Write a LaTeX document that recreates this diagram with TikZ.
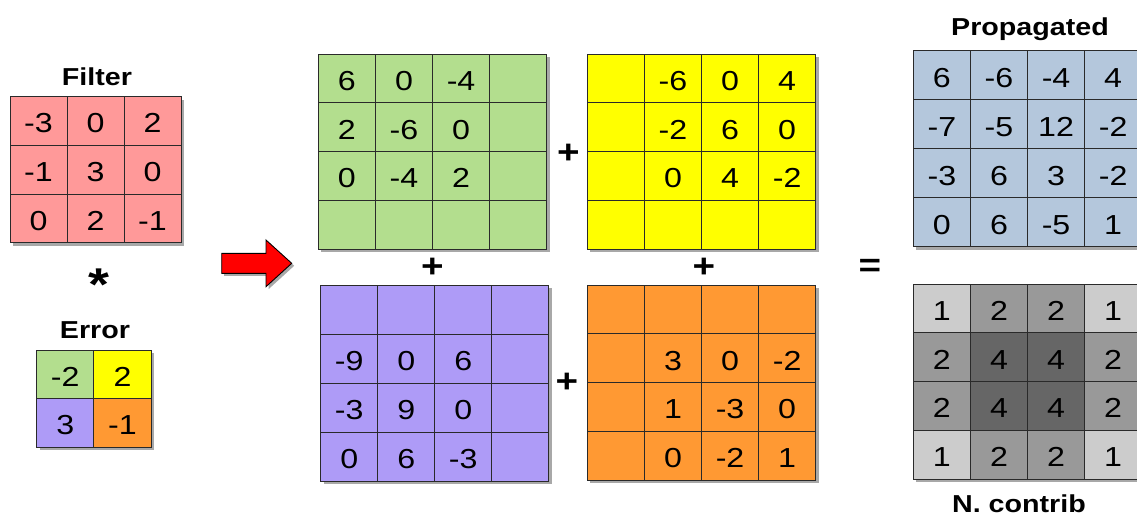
\documentclass[tikz,border=0pt]{standalone}
\usepackage{fontspec}
\setmainfont[FakeStretch=1.17]{Liberation Sans}
\definecolor{gridline}{HTML}{2A2A2A}
\definecolor{cfilter}{HTML}{FF9999}
\definecolor{cgreen}{HTML}{B3DE8E}
\definecolor{cyellow}{HTML}{FFFF00}
\definecolor{cpurple}{HTML}{AE9BF7}
\definecolor{corange}{HTML}{FF9933}
\definecolor{cblue}{HTML}{B4C7DC}
\definecolor{nc1}{HTML}{CCCCCC}
\definecolor{nc2}{HTML}{999999}
\definecolor{nc4}{HTML}{666666}
\colorlet{err11}{cgreen}
\colorlet{err12}{cyellow}
\colorlet{err21}{cpurple}
\colorlet{err22}{corange}
\definecolor{shadowc}{HTML}{A8A8A8}
\tikzset{
  cell/.style={draw=gridline, line width=0.9pt, inner sep=0pt, text height=23.7pt, text depth=0pt,
    font=\fontsize{27.5}{27.5}\selectfont},
  title/.style={font=\fontsize{24.5}{24.5}\selectfont\bfseries, anchor=base, inner sep=0pt},
  op/.style={font=\fontsize{33}{33}\selectfont\bfseries, inner sep=0pt},
  shade/.style={fill=shadowc},
}
\newcommand\mkgrid[9]{%
  \fill[shade] ({#2+3},{#3+3}) rectangle ++({#6*#4},{#7*#5});
  \foreach \rowlist [count=\ri] in {#9} {
    \foreach \v [count=\ci] in \rowlist {
      \node[cell, fill=#8, minimum width=#4pt, minimum height=#5pt] (#1-\ri-\ci)
        at ({#2+(\ci-0.5)*#4},{#3+(\ri-0.5)*#5}) {\v};
    }
  }
}
\begin{document}
\begin{tikzpicture}[x=1pt,y=-1pt]
\useasboundingbox (0,0) rectangle (1137,515);
% Filter
\node[title] (tfilter) at (97,85) {Filter};
\mkgrid{f}{10}{96.7}{57}{48.7}{3}{3}{cfilter}{{-3,0,2},{-1,3,0},{0,2,-1}}
\node[op, font=\fontsize{46}{46}\selectfont\bfseries] (star) at (99,285) {*};
% Error
\node[title] (terror) at (95,338.3) {Error};
\mkgrid{e}{36.7}{350}{57.2}{48.7}{2}{2}{err\ri\ci}{{-2,2},{3,-1}}
% arrow
\fill[shade] (224.2,255.8) -- (268.5,255.8) -- (268.5,242.5) -- (294.2,265.8) -- (268.5,289.2) -- (268.5,275.8) -- (224.2,275.8) -- cycle;
\draw[fill=red, draw=black, line width=0.9pt] (221.7,253.3) -- (266,253.3) -- (266,240) -- (291.7,263.3) -- (266,286.7) -- (266,273.3) -- (221.7,273.3) -- cycle;
% four partial grids
\mkgrid{g}{318.3}{54}{57.1}{48.8}{4}{4}{cgreen}{{6,0,-4,{}},{2,-6,0,{}},{0,-4,2,{}},{{},{},{},{}}}
\mkgrid{y}{587.3}{54}{57.1}{48.8}{4}{4}{cyellow}{{{},-6,0,4},{{},-2,6,0},{{},0,4,-2},{{},{},{},{}}}
\mkgrid{p}{320.7}{285}{57}{49}{4}{4}{cpurple}{{{},{},{},{}},{-9,0,6,{}},{-3,9,0,{}},{0,6,-3,{}}}
\mkgrid{o}{587.3}{285}{57.1}{48.8}{4}{4}{corange}{{{},{},{},{}},{{},3,0,-2},{{},1,-3,0},{{},0,-2,1}}
\node[op] (plus1) at (568.3,154) {+};
\node[op] (plus2) at (432.3,268.3) {+};
\node[op] (plus3) at (704,268.3) {+};
\node[op] (plus4) at (567,383) {+};
\node[op] (eq) at (870,268.3) {=};
% results
\node[title] (tprop) at (1030,35) {Propagated};
\mkgrid{r}{913.3}{50.7}{57.1}{49}{4}{4}{cblue}{{6,-6,-4,4},{-7,-5,12,-2},{-3,6,3,-2},{0,6,-5,1}}
\mkgrid{n}{913.3}{284}{57.1}{48.8}{4}{4}{nc\v}{{1,2,2,1},{2,4,4,2},{2,4,4,2},{1,2,2,1}}
\node[title] (tnc) at (1019,512) {N. contrib};
\end{tikzpicture}
\end{document}
